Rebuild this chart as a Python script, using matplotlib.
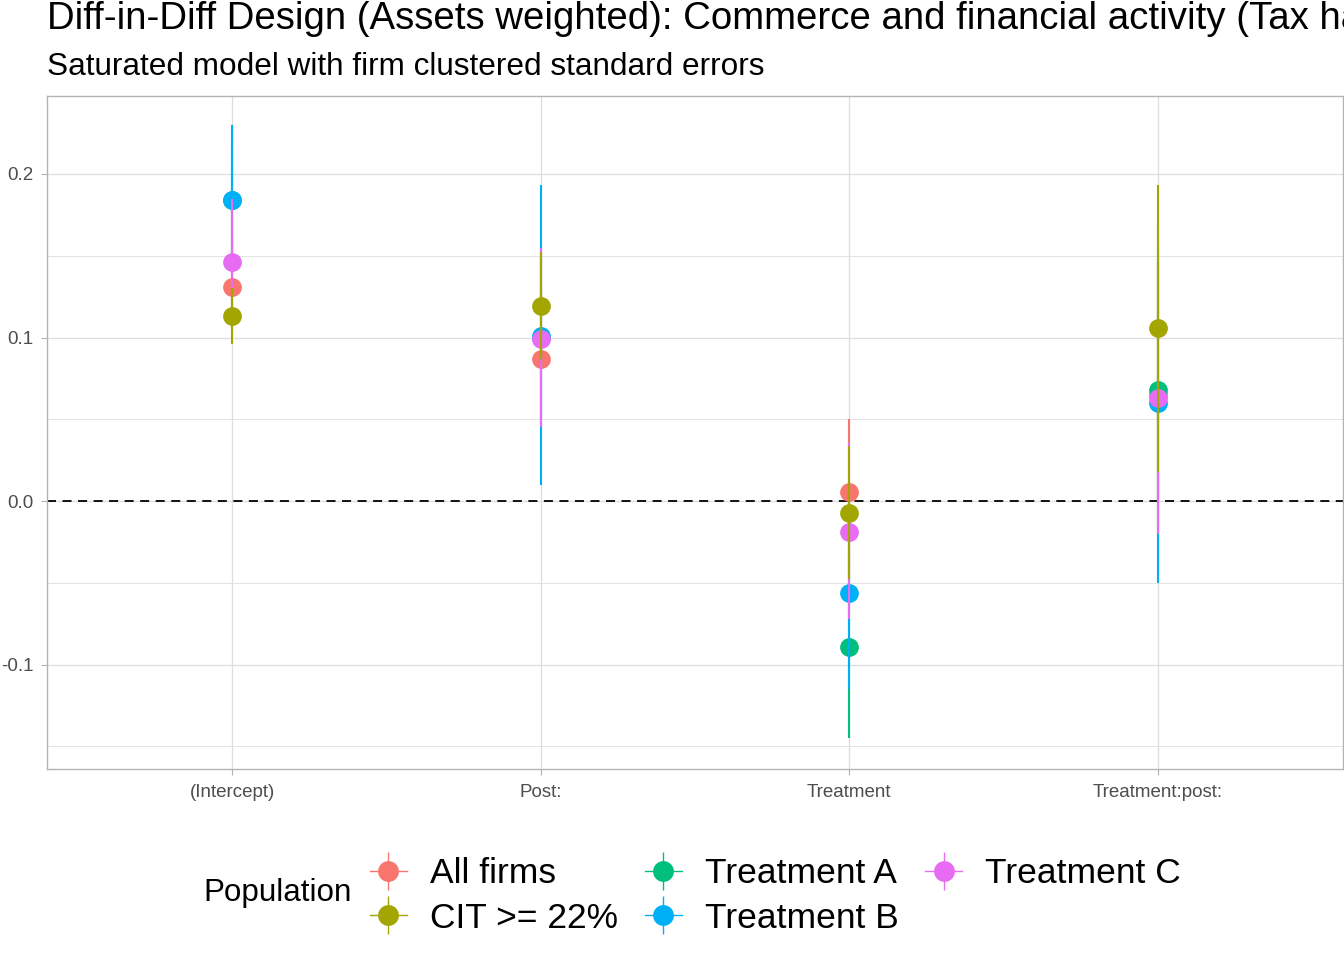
import matplotlib
matplotlib.use("Agg")
import matplotlib.pyplot as plt
from matplotlib.lines import Line2D
from matplotlib.legend_handler import HandlerTuple
import numpy as np

plt.rcParams['font.family'] = ['Liberation Sans', 'DejaVu Sans']

terms = ["(Intercept)", "Post:", "Treatment", "Treatment:post:"]
legend_order = ["All firms", "CIT >= 22%", "Treatment A", "Treatment B", "Treatment C"]
draw_order = ["All firms", "Treatment A", "Treatment B", "Treatment C", "CIT >= 22%"]
colors = {"All firms": "#F8766D", "CIT >= 22%": "#A3A500", "Treatment A": "#00BF7D",
          "Treatment B": "#00B0F6", "Treatment C": "#E76BF3"}

est_all = [0.131, 0.087, 0.0055, 0.065]
lo_all = [0.100, 0.045, -0.039, 0.000]
hi_all = [0.162, 0.129, 0.050, 0.130]

est_cit = [0.113, 0.1195, -0.0075, 0.106]
lo_cit = [0.096, 0.087, -0.048, 0.018]
hi_cit = [0.130, 0.152, 0.0336, 0.193]

est_a = [0.184, 0.100, -0.089, 0.068]
lo_a = [0.150, 0.050, -0.145, -0.020]
hi_a = [0.218, 0.150, -0.033, 0.156]

est_b = [0.184, 0.101, -0.056, 0.060]
lo_b = [0.138, 0.010, -0.115, -0.050]
hi_b = [0.230, 0.193, 0.003, 0.170]

est_c = [0.146, 0.099, -0.019, 0.063]
lo_c = [0.107, 0.045, -0.072, -0.020]
hi_c = [0.185, 0.155, 0.0355, 0.146]

data = {
    "All firms": (est_all, lo_all, hi_all),
    "CIT >= 22%": (est_cit, lo_cit, hi_cit),
    "Treatment A": (est_a, lo_a, hi_a),
    "Treatment B": (est_b, lo_b, hi_b),
    "Treatment C": (est_c, lo_c, hi_c),
}

W, H = 1344, 960
fig = plt.figure(figsize=(W / 100, H / 100), dpi=100)
ax = fig.add_axes([47 / W, 1 - 769 / H, 1296 / W, 673 / H])

x = np.arange(1, len(terms) + 1)
z = 3
for pop in draw_order:
    e, lo, hi = data[pop]
    c = colors[pop]
    ax.vlines(x, lo, hi, colors=c, linewidth=1.5, zorder=z)
    ax.plot(x, e, 'o', color=c, markersize=13.5, markeredgewidth=0, zorder=z + 0.5)
    z += 1

ax.axhline(0, color='black', linewidth=1.3, dashes=(5, 3.6), zorder=2.5)

ax.set_xlim(0.4, 4.6)
ax.set_ylim(-0.1639, 0.2477)
ax.set_xticks(x)
ax.set_xticklabels(terms)
ax.set_yticks([-0.1, 0.0, 0.1, 0.2])
ax.set_yticklabels(["-0.1", "0.0", "0.1", "0.2"])
ax.set_yticks([-0.15, -0.05, 0.05, 0.15], minor=True)
ax.grid(True, which='major', color='#DEDEDE', linewidth=0.9, zorder=0)
ax.grid(True, which='minor', axis='y', color='#DEDEDE', linewidth=0.6, zorder=0)
ax.set_axisbelow(True)
for s in ax.spines.values():
    s.set_color('#B3B3B3')
    s.set_linewidth(1.0)
ax.tick_params(axis='both', which='major', colors='#B3B3B3', length=4.5, width=0.8,
               labelsize=13.5, labelcolor='#4D4D4D')
ax.tick_params(axis='x', which='major', pad=6)
ax.tick_params(axis='y', which='major', pad=5)
ax.tick_params(axis='y', which='minor', length=0)

fig.text(47 / W, 1 - 29 / H,
         "Diff-in-Diff Design (Assets weighted): Commerce and financial activity (Tax haven)",
         fontsize=27.6, va='baseline', ha='left', color='black')
fig.text(47 / W, 1 - 75 / H, "Saturated model with firm clustered standard errors",
         fontsize=22.7, va='baseline', ha='left', color='black')

handles = []
for pop in legend_order:
    c = colors[pop]
    h1 = Line2D([], [], color=c, linewidth=1.0, marker='o', markersize=15,
                markeredgewidth=0)
    h2 = Line2D([], [], color=c, linestyle='none', marker='|', markersize=27,
                markeredgewidth=1.0)
    handles.append((h2, h1))

leg = fig.legend(handles, legend_order, loc='center left',
                 bbox_to_anchor=(338 / W, 1 - 896 / H), ncol=3, frameon=False,
                 fontsize=25.5, handlelength=1.05, handletextpad=0.65,
                 columnspacing=0.75, labelspacing=0.33,
                 handler_map={tuple: HandlerTuple(ndivide=1, pad=0)})
fig.text(203 / W, 1 - 893 / H, "Population", fontsize=22.6, va='center', ha='left')

fig.savefig("out.png", dpi=100)
